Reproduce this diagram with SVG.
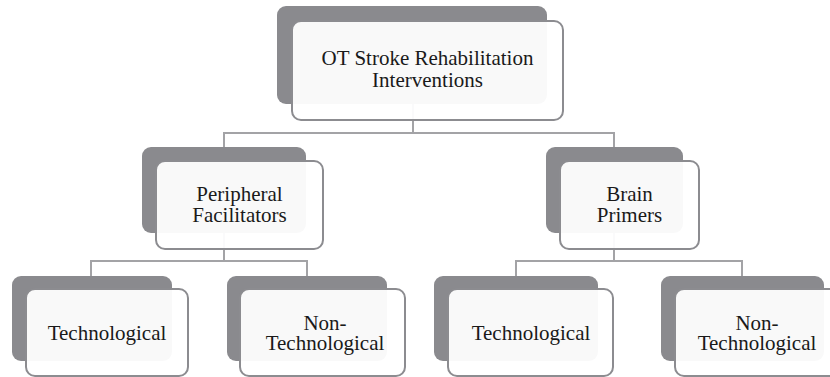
<svg xmlns="http://www.w3.org/2000/svg" width="830" height="377" viewBox="0 0 830 377">
<style>
.back{fill:#8a8a8e}
.front{fill:#ffffff;fill-opacity:0.95;stroke:#8c8c90;stroke-width:2}
.conn{fill:none;stroke:#a3a3a6;stroke-width:2}
text{font-family:"Liberation Serif","Times New Roman",serif;font-size:21px;fill:#1a1a1a;text-anchor:middle}
</style>
<rect width="830" height="377" fill="#ffffff"/>
<g id="connectors">
<path class="conn" d="M413 104 V133 H224 V147 M413 133 H614 V147"/>
<path class="conn" d="M224 233 V261 H91 V276 M224 261 H307 V276"/>
<path class="conn" d="M614 233 V261 H516 V276 M614 261 H742 V276"/>
</g>
<g id="node-root">
<rect class="back" x="277" y="6" width="270" height="98" rx="9"/>
<rect class="front" x="292" y="21" width="271" height="99" rx="9"/>
<text x="427.5" y="65">OT Stroke Rehabilitation</text>
<text x="427.5" y="87">Interventions</text>
</g>
<g id="node-peripheral">
<rect class="back" x="142" y="147" width="164" height="86" rx="9"/>
<rect class="front" x="156" y="161" width="167" height="88" rx="9"/>
<text x="239.5" y="201">Peripheral</text>
<text x="239.5" y="222">Facilitators</text>
</g>
<g id="node-brain">
<rect class="back" x="546" y="147" width="137" height="86" rx="9"/>
<rect class="front" x="560" y="161" width="139" height="88" rx="9"/>
<text x="629.5" y="201">Brain</text>
<text x="629.5" y="222">Primers</text>
</g>
<g id="node-pf-tech">
<rect class="back" x="12" y="276" width="160" height="85" rx="9"/>
<rect class="front" x="26" y="289" width="162" height="87" rx="9"/>
<text x="107" y="340">Technological</text>
</g>
<g id="node-pf-nontech">
<rect class="back" x="227" y="276" width="160" height="85" rx="9"/>
<rect class="front" x="240" y="289" width="165" height="87" rx="9"/>
<text x="325" y="330">Non-</text>
<text x="325" y="350">Technological</text>
</g>
<g id="node-bp-tech">
<rect class="back" x="434" y="276" width="164" height="85" rx="9"/>
<rect class="front" x="448" y="289" width="165" height="87" rx="9"/>
<text x="531" y="340">Technological</text>
</g>
<g id="node-bp-nontech">
<rect class="back" x="661" y="276" width="163" height="85" rx="9"/>
<rect class="front" x="675" y="289" width="165" height="87" rx="9"/>
<text x="757" y="330">Non-</text>
<text x="757" y="350">Technological</text>
</g>
</svg>
